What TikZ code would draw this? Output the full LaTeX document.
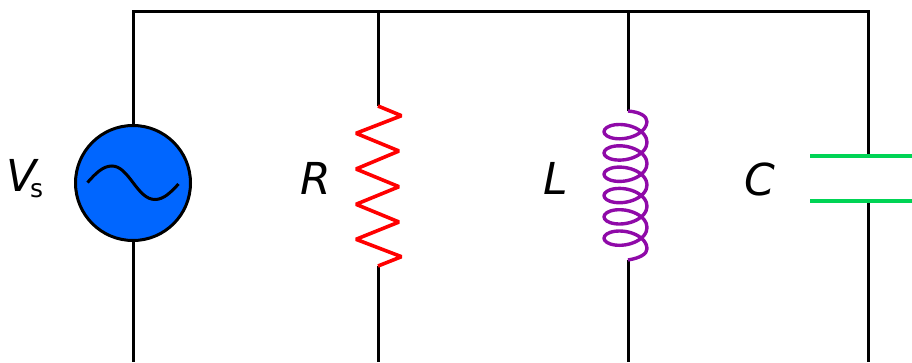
\documentclass[tikz,border=0pt]{standalone}
\usepackage{fontspec}
\setmainfont{DejaVu Sans}
\usetikzlibrary{positioning}

\begin{document}
\begin{tikzpicture}[x=1pt,y=-1pt]
      % Styles
      \tikzset{
        wire/.style={draw=black, line width=3pt},
        sourcenode/.style={draw=black, line width=3pt, circle, fill=srcblue, minimum size=115pt, inner sep=0pt},
        complabel/.style={font=\fontsize{44}{50}\selectfont\itshape, inner sep=0pt},
        resistorline/.style={draw=red, line width=3.6pt, line join=miter, miter limit=2},
        coilline/.style={draw=coilpurple, line width=3.4pt, line join=round},
        plate/.style={draw=capgreen, line width=4.6pt},
      }
      \definecolor{srcblue}{RGB}{0,102,255}
      \definecolor{coilpurple}{RGB}{143,10,168}
      \definecolor{capgreen}{RGB}{0,212,85}
      \useasboundingbox (0,0) rectangle (912,362);
      % Nodes
      \node (source) [sourcenode] at (133,183) {};
      \node (vlabel) [complabel] at (25,179) {V\kern-7pt\raisebox{-6pt}{\fontsize{25}{28}\selectfont\upshape s}};
      \node (rlabel) [complabel] at (316,178) {R};
      \node (llabel) [complabel] at (555.5,178) {L};
      \node (clabel) [complabel] at (760,179) {C};
      % Junctions and wire ends
      \coordinate (topleft) at (133,11);
      \coordinate (topr) at (378,11);
      \coordinate (topl) at (628,11);
      \coordinate (topright) at (868,11);
      \coordinate (botleft) at (133,362);
      \coordinate (botr) at (378,362);
      \coordinate (botl) at (628,362);
      \coordinate (botright) at (868,362);
      \coordinate (rin) at (378,106);
      \coordinate (rout) at (378,266);
      \coordinate (lin) at (628,111);
      \coordinate (lout) at (628,260);
      \coordinate (cin) at (868,156);
      \coordinate (cout) at (868,201);
      % Wires
      \draw[wire, line cap=rect] (source.north) -- (topleft) -- (topright) -- (cin);
      \draw[wire] (source.south) -- (botleft);
      \draw[wire] (topr) -- (rin);
      \draw[wire] (rout) -- (botr);
      \draw[wire] (topl) -- (lin);
      \draw[wire] (lout) -- (botl);
      \draw[wire] (cout) -- (botright);
      % Sine in the source
      \draw[black, line width=3pt] (87.5,182.5) .. controls (96,173) and (103,166) .. (112,166)
        .. controls (129,166) and (137,199.5) .. (155,199.5) .. controls (164,199.5) and (171,192) .. (178.5,184);
      % Resistor
      \draw[resistorline] (rin) -- (401.5,115.7) -- (356,133.3) -- (399,151) -- (356,169)
        -- (399,186.7) -- (356,204.3) -- (399,222) -- (356,239.3) -- (401.5,256.7) -- (rout);
      % Inductor
      \draw[coilline] (lin) .. controls (640,112) and (647,116) .. (647,122)
        -- plot[smooth, samples=145, domain=0:2160] ({625.5+21.5*cos(\x)},{121+\x/360*21.3+12*sin(\x)})
        .. controls (647,254) and (640,258) .. (lout);
      % Capacitor
      \draw[plate] (810,156) -- (912,156);
      \draw[plate] (810,201) -- (912,201);
    \end{tikzpicture}
\end{document}
